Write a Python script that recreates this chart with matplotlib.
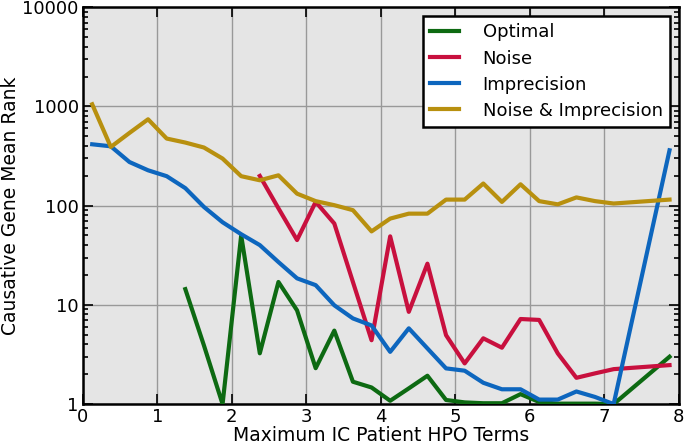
import numpy as np
import matplotlib
matplotlib.use("Agg")
import matplotlib.pyplot as plt
from matplotlib.ticker import LogLocator, FixedLocator

# Bin centres (no data at 7.375 and 7.625)
x = [0.125, 0.375, 0.625, 0.875, 1.125, 1.375, 1.625, 1.875, 2.125, 2.375,
     2.625, 2.875, 3.125, 3.375, 3.625, 3.875, 4.125, 4.375, 4.625, 4.875,
     5.125, 5.375, 5.625, 5.875, 6.125, 6.375, 6.625, 6.875, 7.125, 7.875]

nan = np.nan
optimal = [nan, nan, nan, nan, nan, 14.4, 3.9, 1.0, 50, 3.25,
           17, 8.8, 2.3, 5.5, 1.68, 1.47, 1.08, 1.44, 1.93, 1.1,
           1.04, 1.02, 1.02, 1.26, 1.05, 1.01, 1.01, 1.01, 1.0, 3.0]
noise = [nan, nan, nan, nan, nan, nan, nan, nan, nan, 199,
         94, 45, 109, 66, 17, 4.4, 49, 8.5, 26, 4.95,
         2.57, 4.6, 3.7, 7.2, 7.05, 3.24, 1.84, 2.04, 2.25, 2.47]
imprecision = [415, 396, 275, 227, 198, 150, 97, 68, 51.5, 40,
               27, 18.5, 15.8, 9.9, 7.3, 6.2, 3.36, 5.8, 3.64, 2.29,
               2.17, 1.64, 1.41, 1.41, 1.11, 1.11, 1.34, 1.18, 1.0, 361]
noise_imprecision = [1050, 390, 540, 741, 474, 432, 385, 298, 198, 180,
                     202, 132, 111, 101, 90, 55, 74, 83, 83, 115,
                     115, 167, 109, 164, 111, 103, 121, 111, 105, 115]

labels = ["Optimal", "Noise", "Imprecision", "Noise & Imprecision"]
colors = ["#0d6a12", "#c8103e", "#0d66be", "#b8900f"]
series = [optimal, noise, imprecision, noise_imprecision]

plt.rcParams["font.family"] = ["DejaVu Sans"]
fig = plt.figure(figsize=(6.85, 4.47), dpi=100)
ax = fig.add_axes([0.121, 0.096, 0.870, 0.888])
ax.set_facecolor("#e5e5e5")

for vals, lab, col in zip(series, labels, colors):
    ax.plot(x, vals, color=col, lw=3, label=lab, zorder=3)

ax.set_yscale("log")
ax.set_xlim(0, 8)
ax.set_ylim(1, 10000)
ax.set_xticks(range(0, 9))
ax.yaxis.set_major_locator(FixedLocator([1, 10, 100, 1000, 10000]))
ax.yaxis.set_minor_locator(LogLocator(base=10, subs=np.arange(2, 10), numticks=20))
ax.set_yticklabels(["1", "10", "100", "1000", "10000"])
ax.grid(True, which="major", color="#999999", lw=1, zorder=1)
ax.set_axisbelow(True)

ax.tick_params(which="both", direction="in", top=True, right=True, labelsize=13, width=1.2)
ax.tick_params(which="major", length=7, pad=3)
ax.tick_params(which="minor", length=3.5)
for s in ax.spines.values():
    s.set_linewidth(1.8)
    s.set_color("black")

ax.set_xlabel("Maximum IC Patient HPO Terms", fontsize=13.5, labelpad=0)
ax.set_ylabel("Causative Gene Mean Rank", fontsize=13.5, labelpad=2)

leg = ax.legend(loc="upper right", fontsize=13, fancybox=False, framealpha=1,
                edgecolor="black", handlelength=1.6, handletextpad=1.3,
                labelspacing=0.45)
leg.get_frame().set_linewidth(1.8)

fig.savefig("out.png", dpi=100)
